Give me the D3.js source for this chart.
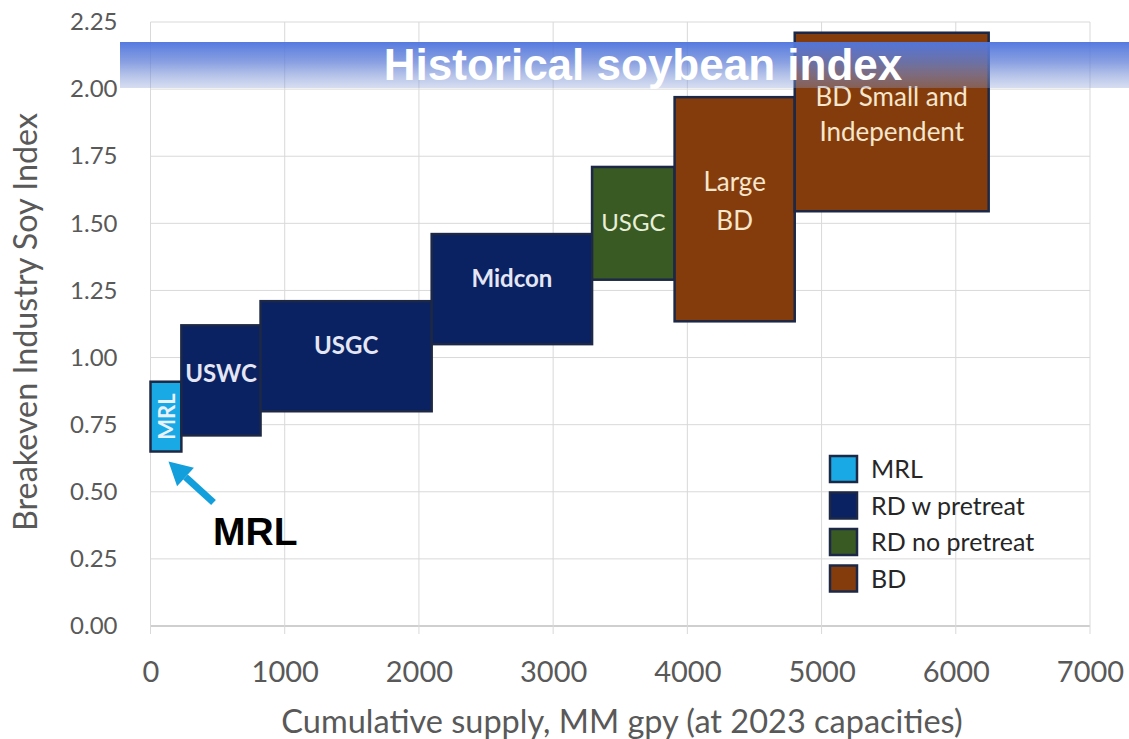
<!DOCTYPE html>
<html><head><meta charset="utf-8">
<script src="https://cdn.jsdelivr.net/npm/d3@7"></script>
<style>body{margin:0;background:#fff}svg{display:block}</style>
</head><body>
<svg id="c" width="1129" height="739"></svg>
<script>
const names = ["MRL","USWC","USGC","Midcon","USGC","Large BD","BD Small and Independent"];
const groups = ["MRL","RD w pretreat","RD w pretreat","RD w pretreat","RD no pretreat","BD","BD"];
const xStart = [0,230,820,2095,3290,3905,4800];
const xEnd   = [230,820,2095,3290,3905,4800,6245];
const yLow   = [0.65,0.71,0.80,1.05,1.29,1.135,1.545];
const yHigh  = [0.91,1.12,1.21,1.46,1.71,1.97,2.21];
const labelLines = [["MRL"],["USWC"],["USGC"],["Midcon"],["USGC"],["Large","BD"],["BD Small and","Independent"]];
const labelYs = [[0.78],[0.946],[1.047],[1.297],[1.505],[1.658,1.513],[1.975,1.845]];
const legendKeys = ["MRL","RD w pretreat","RD no pretreat","BD"];
const legendColors = ["#19A9E4","#0B2262","#3A5A24","#843C0C"];
const xTicks = [0,1000,2000,3000,4000,5000,6000,7000];
const yTicks = [0,0.25,0.5,0.75,1.0,1.25,1.5,1.75,2.0,2.25];

const svg = d3.select("#c");
const x = d3.scaleLinear().domain([0,7000]).range([150.5,1090]);
const y = d3.scaleLinear().domain([0,2.25]).range([626,22]);
const color = d3.scaleOrdinal().domain(legendKeys).range(legendColors);
const font = "Lato, 'Open Sans', sans-serif";
const bold = "'Liberation Sans', Arial, sans-serif";

// grid
svg.append("g").selectAll("line").data(yTicks).join("line")
  .attr("x1",x(0)).attr("x2",x(7000)).attr("y1",d=>y(d)).attr("y2",d=>y(d))
  .attr("stroke",d=>d===0?"#BFBFBF":"#D9D9D9").attr("stroke-width",d=>d===0?1.5:1);
svg.append("g").selectAll("line").data(xTicks).join("line")
  .attr("y1",y(2.25)).attr("y2",y(0)+8).attr("x1",d=>x(d)).attr("x2",d=>x(d))
  .attr("stroke","#D9D9D9").attr("stroke-width",1);

// axes
const xAxis = svg.append("g").attr("transform",`translate(0,${y(0)})`)
  .call(d3.axisBottom(x).tickValues(xTicks).tickFormat(d3.format("d")).tickSize(0).tickPadding(35));
xAxis.select(".domain").remove();
xAxis.selectAll("text").attr("font-family",font).attr("font-size",29).attr("fill","#595959");
const yAxis = svg.append("g").attr("transform",`translate(${x(0)},0)`)
  .call(d3.axisLeft(y).tickValues(yTicks).tickFormat(d3.format(".2f")).tickSize(0).tickPadding(33));
yAxis.select(".domain").remove();
yAxis.selectAll("text").attr("font-family",font).attr("font-size",24).attr("fill","#595959");

svg.append("text").attr("x",622).attr("y",733).attr("text-anchor","middle")
  .attr("font-family",font).attr("font-size",32.5).attr("fill","#595959")
  .text("Cumulative supply, MM gpy (at 2023 capacities)");
svg.append("text").attr("transform","translate(37,322) rotate(-90)").attr("text-anchor","middle")
  .attr("font-family",font).attr("font-size",32.3).attr("fill","#595959")
  .text("Breakeven Industry Soy Index");

// bars
const idx = d3.range(names.length);
svg.append("g").selectAll("rect").data(idx).join("rect")
  .attr("x",i=>x(xStart[i])).attr("width",i=>x(xEnd[i])-x(xStart[i]))
  .attr("y",i=>y(yHigh[i])).attr("height",i=>y(yLow[i])-y(yHigh[i]))
  .attr("fill",i=>color(groups[i])).attr("stroke","#1C2845").attr("stroke-width",2.5);

// bar labels
idx.forEach(i=>{
  const cx = (x(xStart[i])+x(xEnd[i]))/2;
  if(i===0){
    svg.append("text").attr("transform",`translate(${cx+1},${y(labelYs[i][0])}) rotate(-90)`)
      .attr("text-anchor","middle").attr("dominant-baseline","central").attr("font-family",font).attr("font-weight","bold")
      .attr("font-size",22).attr("fill","#EAF2FF").text(labelLines[i][0]);
    return;
  }
  labelLines[i].forEach((t,k)=>{
    svg.append("text").attr("x",cx).attr("y",y(labelYs[i][k]))
      .attr("text-anchor","middle").attr("dominant-baseline","central").attr("font-family",font)
      .attr("font-size",i>=5?26:24)
      .attr("font-weight",i<4?"bold":"normal")
      .attr("fill",i===4?"#E8F0D8":(i>=5?"#F5E6CC":"#E4E6F4")).text(t);
  });
});

// banner
const defs = svg.append("defs");
const g = defs.append("linearGradient").attr("id","bg").attr("x1",0).attr("x2",0).attr("y1",0).attr("y2",1);
g.append("stop").attr("offset","0%").attr("stop-color","rgb(80,118,222)").attr("stop-opacity",0.97);
g.append("stop").attr("offset","45%").attr("stop-color","rgb(100,130,215)").attr("stop-opacity",0.75);
g.append("stop").attr("offset","100%").attr("stop-color","rgb(140,160,215)").attr("stop-opacity",0.35);
svg.append("rect").attr("x",120).attr("y",42).attr("width",1009).attr("height",46).attr("fill","url(#bg)");
svg.append("text").attr("x",643).attr("y",80).attr("text-anchor","middle")
  .attr("font-family",bold).attr("font-weight","bold")
  .attr("font-size",44).attr("fill","#fff").text("Historical soybean index");

// legend
const leg = svg.append("g");
legendKeys.forEach((k,i)=>{
  const cy = 469 + i*36.5;
  leg.append("rect").attr("x",830).attr("y",cy-13).attr("width",27).attr("height",26)
    .attr("fill",color(k)).attr("stroke","#1C2845").attr("stroke-width",2.5);
  leg.append("text").attr("x",871).attr("y",cy+9).attr("font-family",font).attr("font-size",25)
    .attr("fill","#262626").text(k);
});

// annotation arrow pointing at the MRL bar
const tip = [x(0)+18, y(yLow[0])+10];
const tail = [tip[0]+45, tip[1]+41];
const ang = Math.atan2(tail[1]-tip[1], tail[0]-tip[0]);
const hl = 23, hw = 12.5;
const bx = tip[0]+hl*Math.cos(ang), by = tip[1]+hl*Math.sin(ang);
const px = -Math.sin(ang), py = Math.cos(ang);
svg.append("line").attr("x1",tail[0]).attr("y1",tail[1]).attr("x2",bx).attr("y2",by)
  .attr("stroke","#139FDB").attr("stroke-width",7);
svg.append("path").attr("d",`M${tip[0]},${tip[1]} L${bx+px*hw},${by+py*hw} L${bx-px*hw},${by-py*hw} Z`)
  .attr("fill","#139FDB");
svg.append("text").attr("x",213).attr("y",545).attr("font-family",bold)
  .attr("font-weight","bold").attr("font-size",39).attr("fill","#000").text("MRL");
</script>
</body></html>
